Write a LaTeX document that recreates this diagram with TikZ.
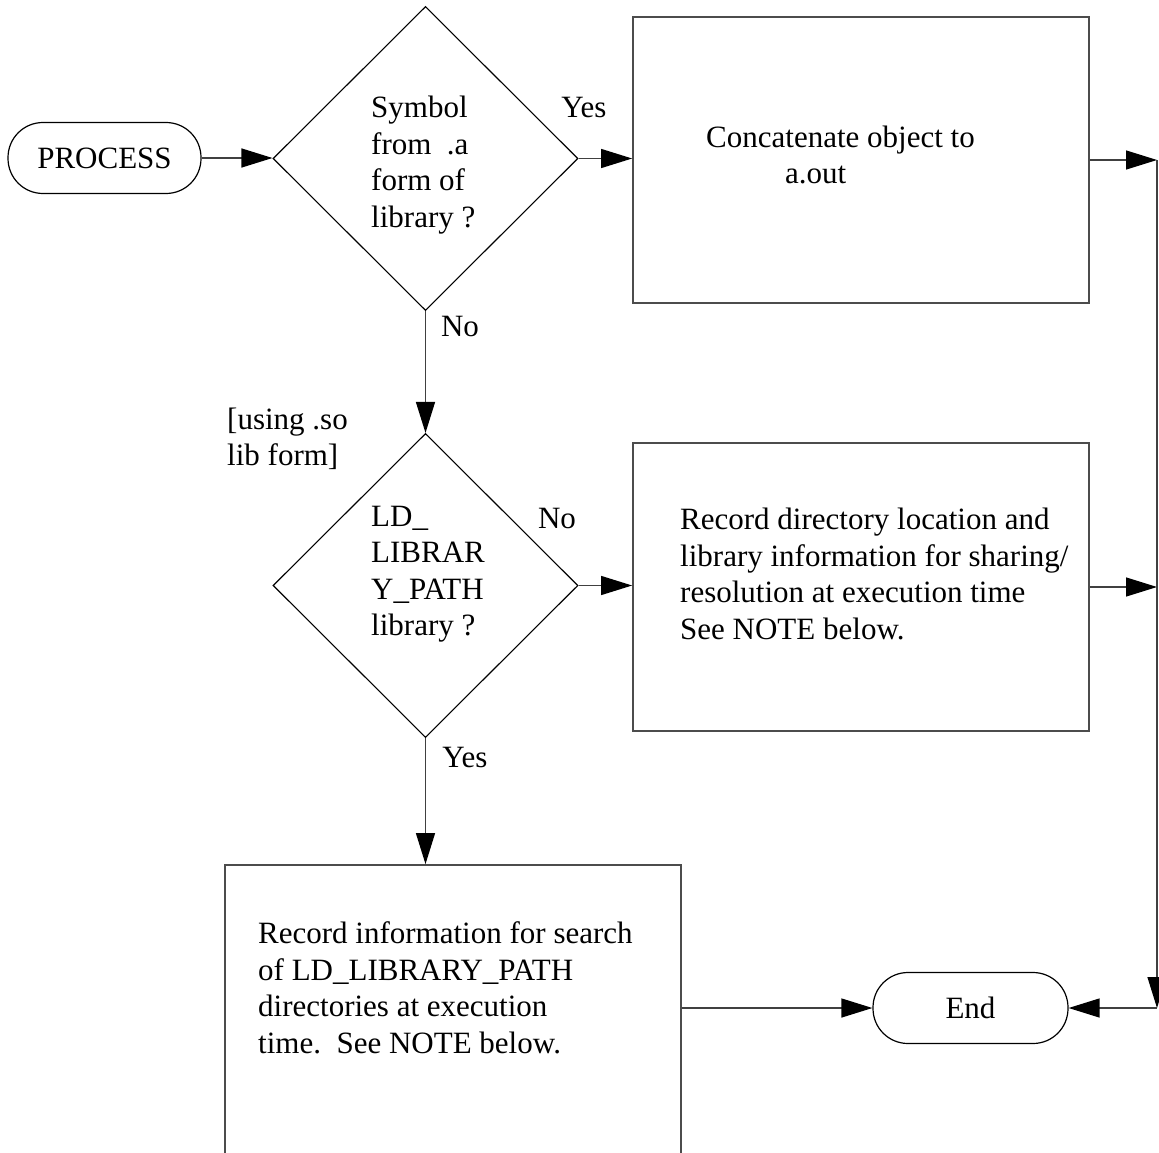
\documentclass[tikz,border=0pt]{standalone}
\usepackage{fontspec}
\setmainfont{Liberation Serif}
\usetikzlibrary{shapes.geometric,arrows.meta}
\begin{document}
\begin{tikzpicture}[x=1pt,y=-1pt,
  every node/.style={font=\fontsize{31}{36.5}\selectfont},
  boxnode/.style={draw=black!70,line width=1.8pt,rectangle,inner sep=0pt},
  termnode/.style={draw=black,line width=1.2pt,rectangle,rounded corners=35pt,inner sep=0pt,minimum height=71pt},
  decnode/.style={draw=black,line width=1.1pt,diamond,inner sep=0pt,minimum width=305pt,minimum height=304pt},
  txt/.style={align=left,inner sep=0pt,anchor=west},
  lbl/.style={inner sep=0pt},
  flow/.style={draw=black!75,line width=1.3pt,-{Triangle[length=31pt,width=19pt,color=black]}}
]
\useasboundingbox (0,0) rectangle (1159,1153);
\clip (0,0) rectangle (1159,1153);
% nodes
\node[termnode,minimum width=193pt] (proc) at (104.5,158) {PROCESS};
\node[decnode] (d1) at (425.5,158.5) {};
\node[decnode] (d2) at (425.5,585.5) {};
\node[boxnode,minimum width=456pt,minimum height=286pt] (b1) at (861,160) {};
\node[boxnode,minimum width=456pt,minimum height=288pt] (b2) at (861,587) {};
\node[boxnode,minimum width=456pt,minimum height=300pt] (b3) at (453,1015) {};
\node[termnode,minimum width=195pt] (endn) at (970.5,1008) {End};
% texts
\node[txt] (t1) at (371,165) {Symbol\\from~~.a\\form of\\library ?};
\node[txt] (t2) at (371,574) {LD\_\\LIBRAR\\Y\_PATH\\library ?};
\node[txt] (tb1) at (706,155) {Concatenate object to\\\hspace*{79pt}a.out};
\node[txt] (tb2) at (680,574) {Record directory location and\\library information for sharing/\\resolution at execution time\\See NOTE below.};
\node[txt] (tb3) at (258,988) {Record information for search\\of LD\_LIBRARY\_PATH\\directories at execution\\time.~~See NOTE below.};
\node[txt] (using) at (227,439) {[using .so\\lib form]};
\node[lbl] (yes1) at (584,108) {Yes};
\node[lbl] (no1) at (460,326) {No};
\node[lbl] (no2) at (557,518) {No};
\node[lbl] (yes2) at (465,757) {Yes};
% right bus
\coordinate (r1) at (1157,160);
\coordinate (r2) at (1157,587);
\coordinate (r3) at (1157,1008);
% connectors
\draw[flow] (proc.east) -- (proc.east -| d1.west);
\draw[flow] (d1.east) -- (d1.east -| b1.west);
\draw[flow] (d1.south) -- (d2.north);
\draw[flow] (d2.east) -- (d2.east -| b2.west);
\draw[flow] (d2.south) -- (d2.south |- b3.north);
\draw[flow] (b1.east) -- (r1);
\draw[flow] (b2.east) -- (r2);
\draw[flow] (r1) -- (r3);
\draw[flow] (r3) -- (endn.east);
\draw[flow] (b3.east |- endn.west) -- (endn.west);
\end{tikzpicture}
\end{document}
